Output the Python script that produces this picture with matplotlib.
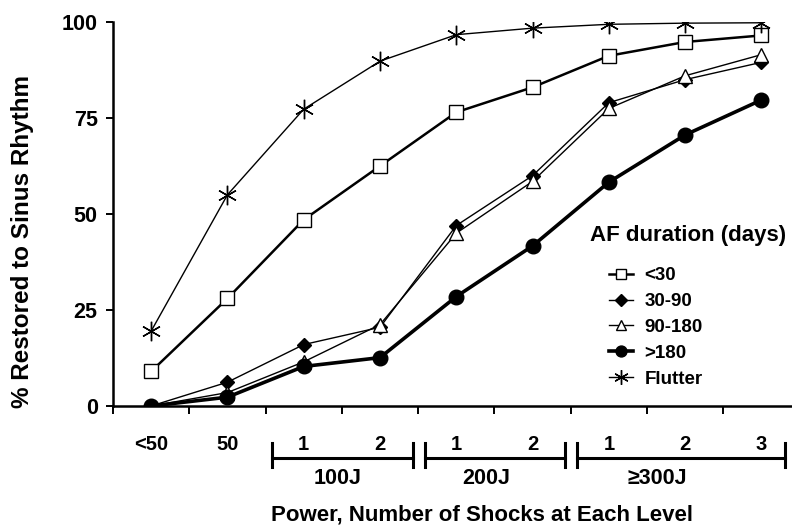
import matplotlib
matplotlib.use("Agg")
import matplotlib.pyplot as plt

# categories along x
categories = ["<50", "50", "1", "2", "1", "2", "1", "2", "3"]
groups = ["100J", "200J", "\u2265300J"]

# % restored to sinus rhythm
lt30 = [9, 28, 48.5, 62.5, 76.5, 83, 91.2, 94.8, 96.5]
d30_90 = [0, 6.2, 16, 20.5, 47, 60, 79, 85, 89.5]
d90_180 = [0, 3.5, 11.5, 21.2, 45, 58.5, 77.5, 86, 91.5]
gt180 = [0, 2.3, 10.3, 12.6, 28.5, 41.7, 58.3, 70.6, 79.7]
flutter = [19.5, 55, 77.3, 89.8, 96.7, 98.4, 99.4, 99.7, 99.8]

plt.rcParams['font.family'] = ['Liberation Sans', 'DejaVu Sans']
plt.rcParams['font.weight'] = 'bold'

fig = plt.figure(figsize=(7.92, 5.28), dpi=100)
ax = fig.add_axes([113 / 792, 122 / 528, 679 / 792, 384 / 528])

x = list(range(len(categories)))

ax.plot(x, lt30, color='black', lw=1.8, marker='s', ms=10, mfc='white',
        mec='black', mew=1.0, label='<30', zorder=3)
ax.plot(x, d30_90, color='black', lw=1.0, marker='D', ms=7.5, mfc='black',
        mec='black', label='30-90', zorder=3)
ax.plot(x, d90_180, color='black', lw=1.0, marker='^', ms=10, mfc='white',
        mec='black', mew=1.0, label='90-180', zorder=4)
ax.plot(x, gt180, color='black', lw=2.6, marker='o', ms=10.5, mfc='black',
        mec='black', label='>180', zorder=5)
ax.plot(x, flutter, color='black', lw=1.0, marker=(6, 2, 0), ms=14,
        mec='black', mew=1.0, label='Flutter', zorder=3)

ax.set_xlim(-0.5, 8.4)
ax.set_ylim(0, 100)
ax.set_yticks([0, 25, 50, 75, 100])
ax.spines['top'].set_visible(False)
ax.spines['right'].set_visible(False)
ax.spines['left'].set_linewidth(1.8)
ax.spines['bottom'].set_linewidth(1.8)
ax.tick_params(axis='y', direction='out', length=5, width=1.4,
               labelsize=15.5, pad=6)

# boundary ticks (major) and category labels (minor)
ax.set_xticks([i - 0.5 for i in range(9)])
ax.set_xticklabels([])
ax.set_xticks(x, minor=True)
ax.set_xticklabels(categories, minor=True)
ax.tick_params(axis='x', which='major', direction='out', length=6, width=1.4)
ax.tick_params(axis='x', which='minor', length=0, labelsize=14.5, pad=21)

# group brackets under the category labels
trans = ax.get_xaxis_transform()
spans = [(1.58, 3.43), (3.59, 5.42), (5.58, 8.31)]
label_x = [2.45, 4.39, 6.64]
for (a, b), lx, g in zip(spans, label_x, groups):
    ax.plot([a, b], [-0.135, -0.135], color='black', lw=2.2,
            transform=trans, clip_on=False)
    for e in (a, b):
        ax.plot([e, e], [-0.097, -0.158], color='black', lw=2.2,
                transform=trans, clip_on=False)
    ax.text(lx, -0.19, g, transform=trans, ha='center', va='center',
            fontsize=15.5, fontweight='bold')

fig.text(23 / 792, 1 - 241 / 528, '% Restored to Sinus Rhythm', rotation=90,
         ha='center', va='center', fontsize=17.5, fontweight='bold')
fig.text(482 / 792, 1 - 515 / 528, 'Power, Number of Shocks at Each Level',
         ha='center', va='center', fontsize=16, fontweight='bold')

fig.text(688 / 792, 1 - 235 / 528, 'AF duration (days)', ha='center',
         va='center', fontsize=16, fontweight='bold')
leg = ax.legend(loc='upper left', bbox_to_anchor=(609 / 792, 1 - 267 / 528),
                bbox_transform=fig.transFigure, frameon=False, fontsize=13.5,
                handlelength=1.3, handletextpad=0.6, labelspacing=0.47,
                borderpad=0, borderaxespad=0, markerscale=0.75)

fig.savefig('out.png', dpi=100)
